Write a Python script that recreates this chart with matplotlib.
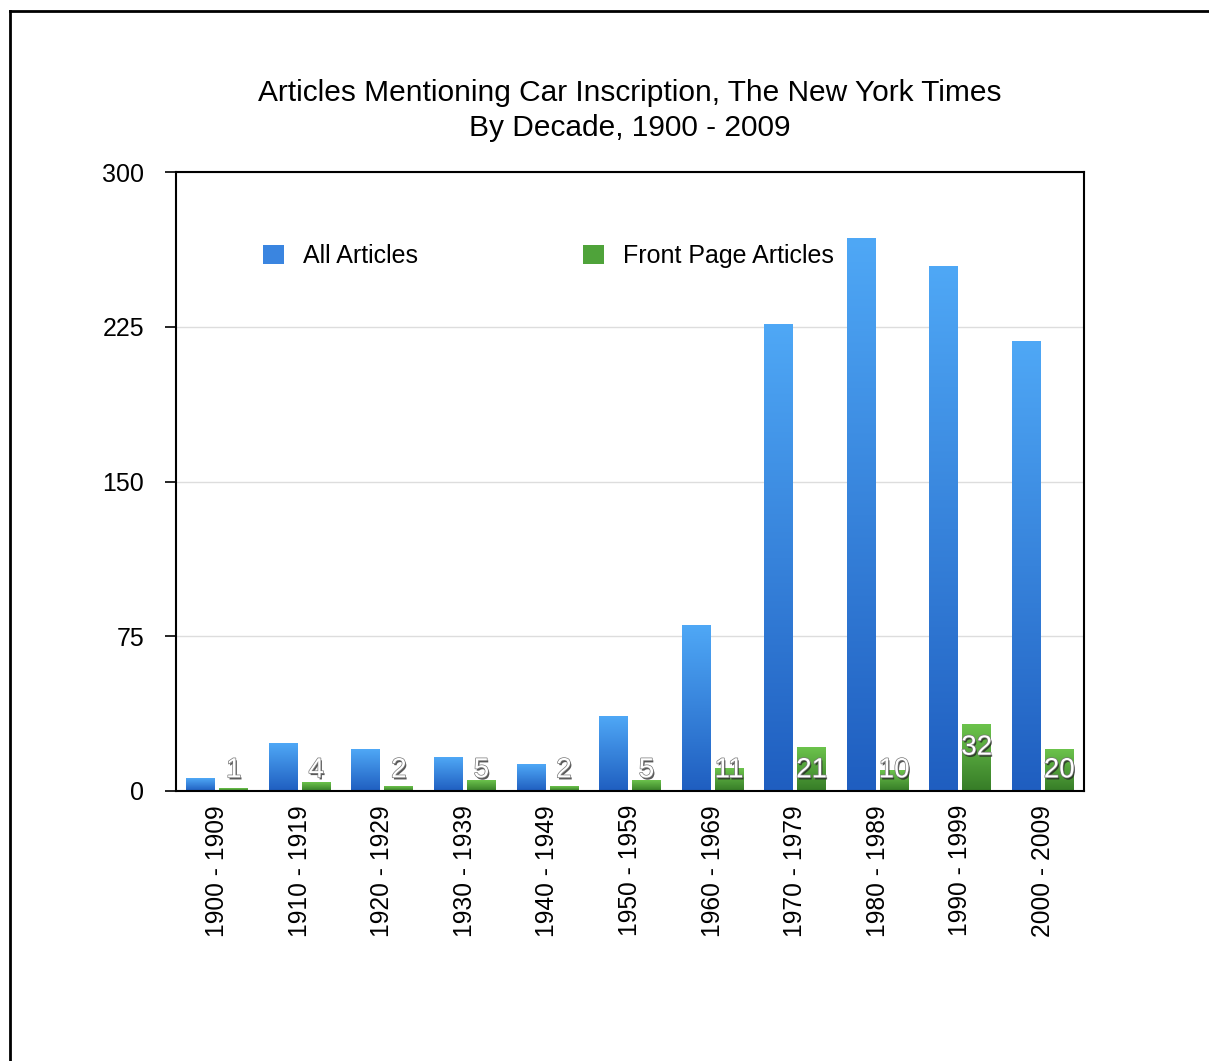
import numpy as np
import matplotlib
matplotlib.use('Agg')
import matplotlib.pyplot as plt
import matplotlib.patheffects as pe
from matplotlib.colors import LinearSegmentedColormap
from matplotlib.lines import Line2D
from matplotlib.patches import Patch

plt.rcParams['font.family'] = ['Liberation Sans', 'DejaVu Sans']

decades = ['1900 - 1909', '1910 - 1919', '1920 - 1929', '1930 - 1939',
           '1940 - 1949', '1950 - 1959', '1960 - 1969', '1970 - 1979',
           '1980 - 1989', '1990 - 1999', '2000 - 2009']
all_articles = [6, 23, 20, 16, 13, 36, 80, 226, 268, 254, 218]
front_page = [1, 4, 2, 5, 2, 5, 11, 21, 10, 32, 20]

W, H = 1209, 1061
fig = plt.figure(figsize=(W / 100, H / 100), dpi=100)
ax = fig.add_axes([176 / W, 1 - 791 / H, (1084 - 176) / W, (791 - 172) / H])

blue_cmap = LinearSegmentedColormap.from_list('b', ['#1f5ec0', '#4fa8f6'])
green_cmap = LinearSegmentedColormap.from_list('g', ['#367c27', '#6cc34c'])

x = np.arange(len(decades))
w = 0.35
b1 = ax.bar(x - 0.2, all_articles, w, color='#3a85e0', zorder=2)
b2 = ax.bar(x + 0.2, front_page, w, color='#4fa33a', zorder=2)

grad = np.linspace(0, 1, 256).reshape(-1, 1)
for bars, cmap in ((b1, blue_cmap), (b2, green_cmap)):
    for r in bars:
        x0, h = r.get_x(), r.get_height()
        ax.imshow(grad, extent=[x0, x0 + r.get_width(), 0, h], origin='lower',
                  aspect='auto', cmap=cmap, zorder=3)

for xi, v in zip(x, front_page):
    ax.text(xi + 0.2, max(v - 11, 10), str(v), ha='center', va='center',
            fontsize=20, color='white', zorder=5,
            path_effects=[pe.SimplePatchShadow(offset=(1, -1.5), shadow_rgbFace='#222222', alpha=0.75),
                          pe.withStroke(linewidth=1, foreground='#777777')])

ax.set_xlim(-0.5, len(decades) - 0.5)
ax.set_ylim(0, 300)
ax.set_yticks([0, 75, 150, 225, 300])
ax.set_xticks(x)
ax.set_xticklabels(decades, rotation=90)
ax.tick_params(axis='y', length=8, width=1.2, labelsize=18, pad=15)
ax.tick_params(axis='x', length=0, labelsize=17.7, pad=10)
ax.yaxis.grid(True, color='#dddddd', linewidth=1, zorder=0)
ax.set_axisbelow(True)
for s in ax.spines.values():
    s.set_linewidth(1.5)
    s.set_zorder(6)

ax.set_title('Articles Mentioning Car Inscription, The New York Times\nBy Decade, 1900 - 2009',
             fontsize=21.5, pad=26, linespacing=1.3)

handles = [Patch(facecolor='#3a85e0'), Patch(facecolor='#4fa33a')]
ax.legend(handles, ['All Articles', 'Front Page Articles'], ncol=2, frameon=False,
          loc='center left', bbox_to_anchor=(0.071, 0.864), fontsize=18,
          handlelength=0.85, handleheight=0.85, handletextpad=0.75, columnspacing=6.6)

# page border
fig.add_artist(Line2D([10 / W, 10 / W], [0, 1 - 11 / H], color='black', linewidth=2))
fig.add_artist(Line2D([10 / W, 1], [1 - 11 / H, 1 - 11 / H], color='black', linewidth=2))

fig.savefig('out.png', dpi=100)
